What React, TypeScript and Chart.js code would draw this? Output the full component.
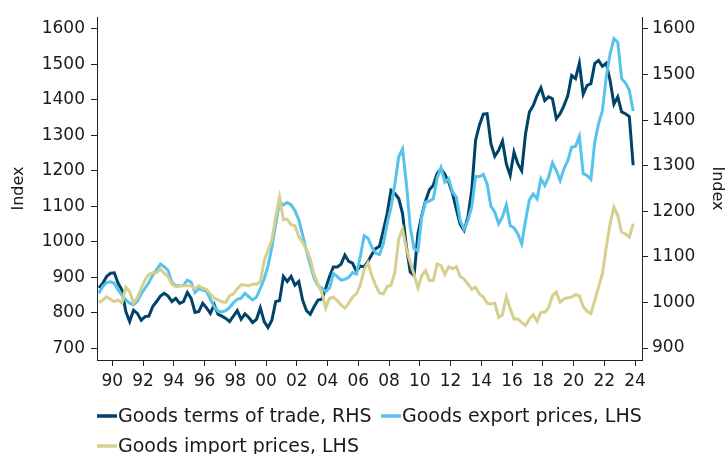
import { useEffect, useRef } from "react";
import { Chart, registerables } from "chart.js";

Chart.register(...registerables);

const FONT = "'DejaVu Sans', Verdana, sans-serif";

// Quarterly categories 1989Q1 .. 2023Q4
const startYear = 1989;
const quarters: string[] = Array.from({ length: 140 }, (_, i) => `${startYear + Math.floor(i / 4)}Q${(i % 4) + 1}`);

const seriesLabels = ["Goods terms of trade, RHS", "Goods export prices, LHS", "Goods import prices, LHS"];
const seriesColors = ["#004368", "#55C3EB", "#D6CF8E"];

const termsOfTrade = [
  1032, 1042, 1057, 1064, 1065, 1042, 1027, 980, 958, 983,
  976, 961, 969, 970, 991, 1002, 1014, 1020, 1014, 1002,
  1009, 998, 1002, 1022, 1009, 978, 980, 998, 988, 976,
  995, 974, 970, 965, 958, 970, 982, 963, 975, 967,
  956, 963, 988, 958, 945, 961, 1002, 1004, 1057, 1046,
  1057, 1038, 1046, 1005, 982, 974, 991, 1005, 1007, 1031,
  1057, 1078, 1078, 1084, 1104, 1090, 1086, 1068, 1080, 1078,
  1090, 1105, 1118, 1123, 1158, 1195, 1246, 1239, 1228, 1195,
  1122, 1067, 1059, 1151, 1191, 1223, 1247, 1257, 1283, 1293,
  1281, 1264, 1239, 1204, 1171, 1158, 1187, 1246, 1356, 1389,
  1413, 1414, 1348, 1321, 1334, 1354, 1304, 1279, 1330, 1304,
  1289, 1370, 1418, 1432, 1454, 1471, 1443, 1451, 1447, 1403,
  1414, 1432, 1454, 1498, 1491, 1525, 1457, 1476, 1480, 1524,
  1531, 1518, 1525, 1487, 1435, 1451, 1418, 1414, 1408, 1301,
];

const exportPrices = [
  855, 874, 885, 887, 883, 864, 850, 836, 827, 822,
  833, 853, 869, 885, 906, 921, 937, 930, 919, 885,
  876, 876, 877, 892, 886, 857, 868, 864, 860, 838,
  817, 804, 802, 806, 815, 828, 838, 841, 855, 845,
  836, 844, 869, 896, 932, 985, 1050, 1114, 1104, 1111,
  1104, 1088, 1062, 1019, 975, 935, 897, 876, 869, 860,
  869, 911, 902, 892, 894, 900, 913, 909, 958, 1017,
  1010, 985, 968, 964, 994, 1051, 1098, 1163, 1239, 1262,
  1163, 1041, 980, 975, 1071, 1112, 1115, 1121, 1180, 1209,
  1168, 1178, 1140, 1126, 1060, 1036, 1060, 1098, 1184, 1184,
  1190, 1163, 1100, 1084, 1051, 1071, 1105, 1046, 1039, 1022,
  994, 1060, 1118, 1135, 1121, 1178, 1159, 1182, 1223, 1201,
  1173, 1206, 1229, 1267, 1269, 1297, 1192, 1187, 1176, 1281,
  1333, 1370, 1465, 1530, 1573, 1563, 1460, 1448, 1427, 1369,
];

const importPrices = [
  829, 836, 845, 838, 831, 836, 827, 872, 860, 827,
  843, 869, 892, 908, 913, 913, 923, 911, 902, 880,
  874, 875, 876, 876, 876, 867, 876, 869, 866, 853,
  841, 836, 831, 829, 848, 853, 868, 879, 878, 876,
  881, 880, 888, 947, 977, 1005, 1071, 1126, 1062, 1064,
  1048, 1045, 1015, 998, 979, 951, 907, 880, 857, 813,
  841, 844, 834, 822, 813, 827, 844, 853, 878, 921,
  941, 905, 877, 856, 853, 874, 877, 914, 1008, 1036,
  980, 942, 908, 870, 905, 919, 891, 891, 938, 933,
  908, 930, 924, 930, 902, 895, 881, 866, 872, 853,
  844, 827, 825, 827, 787, 794, 846, 811, 782, 782,
  773, 764, 782, 794, 776, 801, 801, 814, 848, 858,
  830, 839, 842, 844, 851, 848, 817, 804, 798, 834,
  872, 910, 985, 1051, 1098, 1074, 1027, 1022, 1013, 1051,
];

const leftTicks = [700, 800, 900, 1000, 1100, 1200, 1300, 1400, 1500, 1600];
const rightTicks = [900, 1000, 1100, 1200, 1300, 1400, 1500, 1600];
const xTickYears = [1990, 1992, 1994, 1996, 1998, 2000, 2002, 2004, 2006, 2008, 2010, 2012, 2014, 2016, 2018, 2020, 2022, 2024];
const xTickLabels = ["90", "92", "94", "96", "98", "00", "02", "04", "06", "08", "10", "12", "14", "16", "18", "20", "22", "24"];

function quarterToX(q: string): number {
  const y = Number(q.slice(0, 4));
  const n = Number(q.slice(5));
  return y + (n - 1) / 4 + 0.125;
}

function toPoints(values: number[]) {
  return values.map((v, i) => ({ x: quarterToX(quarters[i]), y: v }));
}

const legendPositions = [
  { x: 97, y: 416 },
  { x: 381, y: 416 },
  { x: 97, y: 446 },
];

const customLegend = {
  id: "customLegend",
  afterDraw(chart: any) {
    const ctx = chart.ctx;
    ctx.save();
    chart.data.datasets.forEach((ds: any, i: number) => {
      const p = legendPositions[i];
      ctx.strokeStyle = ds.borderColor;
      ctx.lineWidth = 3.5;
      ctx.lineCap = "butt";
      ctx.beginPath();
      ctx.moveTo(p.x, p.y);
      ctx.lineTo(p.x + 20, p.y);
      ctx.stroke();
      ctx.fillStyle = "#1a1a1a";
      ctx.font = `19px ${FONT}`;
      ctx.textBaseline = "middle";
      ctx.textAlign = "left";
      ctx.fillText(ds.label, p.x + 21, p.y + 1);
    });
    ctx.restore();
  },
};

export default function App() {
  const canvasRef = useRef<HTMLCanvasElement | null>(null);

  useEffect(() => {
    if (!canvasRef.current) return;
    const axisColor = "#222222";
    const textColor = "#1a1a1a";
    const plainTick = (v: any) => String(v);
    const chart = new Chart(canvasRef.current, {
      type: "line",
      data: {
        datasets: [
          {
            label: seriesLabels[0],
            data: toPoints(termsOfTrade),
            borderColor: seriesColors[0],
            backgroundColor: seriesColors[0],
            borderWidth: 3,
            pointRadius: 0,
            tension: 0,
            yAxisID: "y1",
            order: 3,
          },
          {
            label: seriesLabels[1],
            data: toPoints(exportPrices),
            borderColor: seriesColors[1],
            backgroundColor: seriesColors[1],
            borderWidth: 3,
            pointRadius: 0,
            tension: 0,
            yAxisID: "y",
            order: 2,
          },
          {
            label: seriesLabels[2],
            data: toPoints(importPrices),
            borderColor: seriesColors[2],
            backgroundColor: seriesColors[2],
            borderWidth: 3,
            pointRadius: 0,
            tension: 0,
            yAxisID: "y",
            order: 1,
          },
        ],
      },
      options: {
        animation: false,
        responsive: true,
        maintainAspectRatio: false,
        layout: { padding: { top: 17, left: 0, right: 0, bottom: 0 } },
        plugins: {
          legend: { display: false },
          tooltip: { enabled: false },
        },
        scales: {
          x: {
            type: "linear",
            position: "bottom",
            min: 1989,
            max: 2024.45,
            afterBuildTicks: (s: any) => {
              s.ticks = xTickYears.map((v) => ({ value: v }));
            },
            afterFit: (s: any) => {
              s.height = 94;
            },
            ticks: {
              autoSkip: false,
              maxRotation: 0,
              padding: 5,
              color: textColor,
              font: { family: FONT, size: 17 },
              callback: (v: any) => xTickLabels[xTickYears.indexOf(Number(v))] ?? "",
            },
            grid: { drawOnChartArea: false, drawTicks: true, tickLength: 6, color: axisColor },
            border: { display: true, color: axisColor, width: 1 },
          },
          y: {
            type: "linear",
            position: "left",
            min: 666.7,
            max: 1633.8,
            afterBuildTicks: (s: any) => {
              s.ticks = leftTicks.map((v) => ({ value: v }));
            },
            afterFit: (s: any) => {
              s.width = 97;
            },
            ticks: {
              padding: 6,
              color: textColor,
              font: { family: FONT, size: 17 },
              callback: plainTick,
            },
            grid: { drawOnChartArea: false, drawTicks: true, tickLength: 6, color: axisColor },
            border: { display: true, color: axisColor, width: 1 },
            title: {
              display: true,
              text: "Index",
              color: textColor,
              font: { family: FONT, size: 16, lineHeight: 1 },
              padding: { top: 11, bottom: 0 },
            },
          },
          y1: {
            type: "linear",
            position: "right",
            min: 873.7,
            max: 1626.3,
            afterBuildTicks: (s: any) => {
              s.ticks = rightTicks.map((v) => ({ value: v }));
            },
            afterFit: (s: any) => {
              s.width = 83;
            },
            ticks: {
              padding: 4,
              color: textColor,
              font: { family: FONT, size: 17 },
              callback: plainTick,
            },
            grid: { drawOnChartArea: false, drawTicks: true, tickLength: 6, color: axisColor },
            border: { display: true, color: axisColor, width: 1 },
            title: {
              display: true,
              text: "Index",
              color: textColor,
              font: { family: FONT, size: 16, lineHeight: 1 },
              padding: { top: 0, bottom: 0 },
            },
          },
        },
      },
      plugins: [customLegend],
    });
    return () => chart.destroy();
  }, []);

  return (
    <div style={{ position: "fixed", left: 0, top: 0, width: 725, height: 454, background: "#fff" }}>
      <canvas ref={canvasRef} />
    </div>
  );
}
